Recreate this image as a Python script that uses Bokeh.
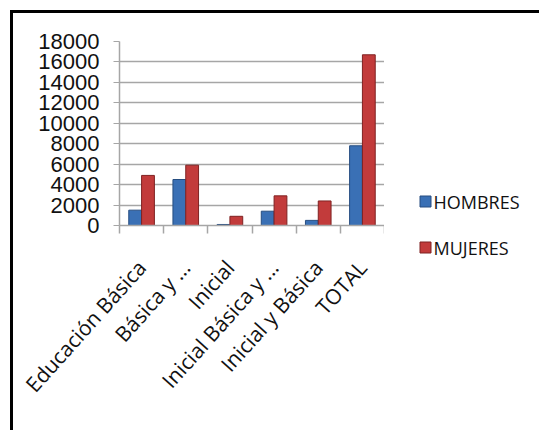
from bokeh.plotting import figure
from bokeh.layouts import row
from bokeh.models import FixedTicker, ColumnDataSource
from bokeh.core.properties import value
from bokeh.embed import file_html
from bokeh.resources import INLINE

categories = ["Educación Básica", "Básica y ...", "Inicial", "Inicial Básica y ...", "Inicial y Básica", "TOTAL"]
series_names = ["HOMBRES", "MUJERES"]
hombres = [1500, 4500, 100, 1400, 500, 7800]
mujeres = [4900, 5900, 900, 2900, 2400, 16700]
y_ticks = [0, 2000, 4000, 6000, 8000, 10000, 12000, 14000, 16000, 18000]

centers = [i + 0.5 for i in range(len(categories))]
bw = 0.29
src_h = ColumnDataSource(dict(x=[c - bw / 2 for c in centers], top=hombres))
src_m = ColumnDataSource(dict(x=[c + bw / 2 for c in centers], top=mujeres))

BLUE, BLUE_EDGE = "#3a70b5", "#264d80"
RED, RED_EDGE = "#c23b3b", "#7f2222"

p = figure(frame_width=265, frame_height=184, output_backend="svg", toolbar_location=None,
           x_range=(0, len(categories)), y_range=(0, 18000))
p.min_border_left = 106
p.min_border_top = 28
p.min_border_right = 0
p.min_border_bottom = 205
p.outline_line_color = None
p.background_fill_color = "white"
p.border_fill_color = "white"

p.vbar(x="x", top="top", width=bw, source=src_h, fill_color=BLUE, line_color=BLUE_EDGE, line_width=1)
p.vbar(x="x", top="top", width=bw, source=src_m, fill_color=RED, line_color=RED_EDGE, line_width=1)

p.xgrid.grid_line_color = None
p.ygrid.grid_line_color = "#a6a6a6"
p.ygrid.grid_line_width = 1.5
p.ygrid.ticker = FixedTicker(ticks=y_ticks)

p.yaxis.ticker = FixedTicker(ticks=y_ticks)
p.yaxis.axis_line_color = "#a6a6a6"
p.yaxis.axis_line_width = 1.5
p.yaxis.major_tick_line_color = "#a6a6a6"
p.yaxis.major_tick_in = 0
p.yaxis.major_tick_out = 6
p.yaxis.minor_tick_line_color = None
p.yaxis.major_label_text_font = "Liberation Sans"
p.yaxis.major_label_text_font_size = "22px"
p.yaxis.major_label_text_color = "#111111"
p.yaxis.major_label_standoff = 14

p.xaxis.ticker = FixedTicker(ticks=centers, minor_ticks=list(range(len(categories) + 1)))
p.xaxis.major_label_overrides = {c: lab for c, lab in zip(centers, categories)}
p.xaxis.axis_line_color = "#a6a6a6"
p.xaxis.axis_line_width = 1.5
p.xaxis.major_tick_line_color = None
p.xaxis.minor_tick_line_color = "#a6a6a6"
p.xaxis.minor_tick_line_width = 1.5
p.xaxis.minor_tick_in = 0
p.xaxis.minor_tick_out = 8
p.xaxis.major_label_orientation = 0.84
p.xaxis.major_label_text_font = "Open Sans"
p.xaxis.major_label_text_font_size = "21px"
p.xaxis.major_label_text_color = "#111111"
p.xaxis.major_label_standoff = 30

# legend panel (pixel-like coordinates, y pointing down)
q = figure(frame_width=155, frame_height=417, output_backend="svg", toolbar_location=None,
           x_range=(0, 155), y_range=(417, 0), x_axis_location=None, y_axis_location=None,
           min_border=0)
q.outline_line_color = None
q.xgrid.grid_line_color = None
q.ygrid.grid_line_color = None
q.border_fill_color = "white"
q.background_fill_color = "white"
leg_y = [160, 206]
q.rect(x=[41, 41], y=leg_y, width=11, height=11,
       fill_color=[BLUE, RED], line_color=[BLUE_EDGE, RED_EDGE], line_width=1)
q.text(x=[49, 49], y=leg_y, text=series_names, text_font=value("Open Sans"),
       text_font_size="18px", text_baseline="middle", text_align="left", text_color="#111111")

layout = row(p, q)
layout.styles = {"margin-left": "10px", "margin-top": "10px",
                 "border-left": "3px solid black", "border-top": "3px solid black"}

open("out.html", "w").write(file_html(layout, INLINE))
